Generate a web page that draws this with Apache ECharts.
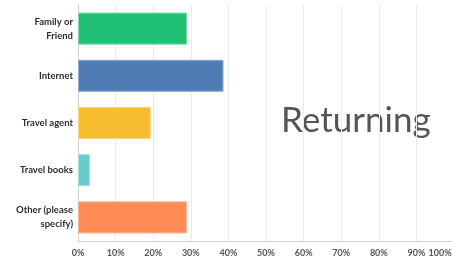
<!DOCTYPE html>
<html>
<head>
<meta charset="utf-8">
<script src="https://cdn.jsdelivr.net/npm/echarts@6/dist/echarts.min.js"></script>
<style>
  html, body { margin: 0; padding: 0; background: #fff; }
  #chart { width: 452px; height: 260px; }
</style>
</head>
<body>
<div id="chart"></div>
<script>
// answer choices, top to bottom
const categories = ['Family or\nFriend', 'Internet', 'Travel agent', 'Travel books', 'Other (please\nspecify)'];
// percent of respondents
const values = [29.03, 38.71, 19.35, 3.23, 29.03];
const barColors = ['#21c175', '#507cb6', '#f7bd2f', '#6bcbca', '#ff8b55'];
const borderColors = ['#7ddcaa', '#93acd3', '#fad67c', '#a6dfde', '#ffb894'];
const xTicks = [0, 10, 20, 30, 40, 50, 60, 70, 80, 90, 100];

const chart = echarts.init(document.getElementById('chart'));

chart.setOption({
  animation: false,
  grid: { left: 78, right: -2, top: 5, bottom: 19, containLabel: false, outerBoundsMode: 'none' },
  xAxis: {
    type: 'value',
    min: xTicks[0],
    max: xTicks[xTicks.length - 1],
    interval: 10,
    axisLine: { show: true, lineStyle: { color: '#d0d0d0' } },
    axisTick: { show: false },
    splitLine: { show: true, lineStyle: { color: '#ebebeb' } },
    axisLabel: {
      // last label sits inside the canvas edge
      formatter: (v) => v === 100 ? '{last|100%}' : v + '%',
      color: '#555',
      fontSize: 9,
      fontWeight: 'bold',
      fontFamily: 'Lato',
      margin: 8,
      rich: {
        last: {
          color: '#555',
          fontSize: 9,
          fontWeight: 'bold',
          fontFamily: 'Lato',
          padding: [0, 28, 0, 0]
        }
      }
    }
  },
  yAxis: {
    type: 'category',
    inverse: true,
    data: categories,
    axisLine: { show: true, lineStyle: { color: '#d0d0d0' } },
    axisTick: { show: false },
    axisLabel: {
      color: '#2e2e2e',
      fontSize: 9.5,
      fontWeight: 'bold',
      fontFamily: 'Lato',
      lineHeight: 14,
      margin: 5,
      align: 'right'
    }
  },
  series: [{
    type: 'bar',
    barWidth: '68%',
    data: values.map((v, i) => ({
      value: v,
      itemStyle: { color: barColors[i], borderColor: borderColors[i], borderWidth: 1 }
    }))
  }],
  graphic: [{
    type: 'text',
    left: 281,
    top: 103,
    style: {
      text: 'Returning',
      fontSize: 35,
      fontFamily: 'Lato',
      fill: '#555'
    }
  }]
});
</script>
</body>
</html>
